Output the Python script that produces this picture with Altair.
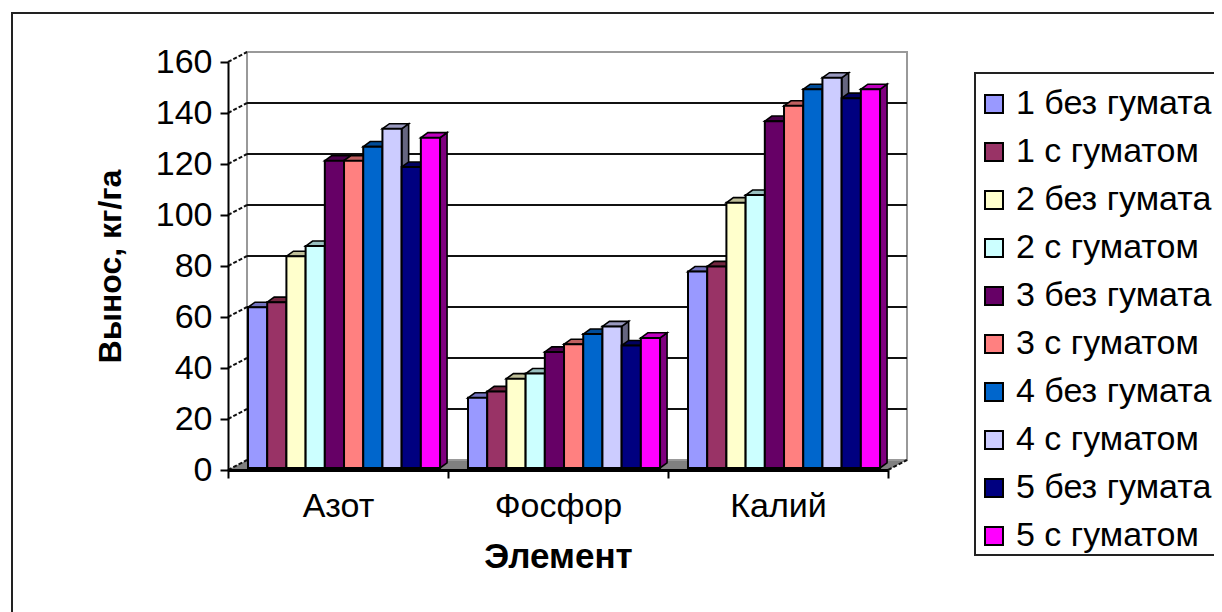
import altair as alt
import pandas as pd

elements = ["Азот", "Фосфор", "Калий"]
series = ["1 без гумата", "1 с гуматом", "2 без гумата", "2 с гуматом", "3 без гумата",
          "3 с гуматом", "4 без гумата", "4 с гуматом", "5 без гумата", "5 с гуматом"]
azot = [63, 65, 83, 87, 120.5, 120.5, 126, 133, 118, 129.5]
fosfor = [27.5, 30, 35, 37, 45.5, 48.5, 52.5, 55.5, 48, 51]
kaliy = [77, 79, 104, 107, 136, 142, 148.5, 153, 145, 148.5]
front_colors = ["#9999FF", "#993366", "#FFFFCC", "#CCFFFF", "#660066",
                "#FF8080", "#0066CC", "#CCCCFF", "#000080", "#FF00FF"]
side_colors = ["#4C4C80", "#4C1933", "#808066", "#668080", "#330033",
               "#804040", "#003366", "#666680", "#000040", "#800080"]
top_colors = ["#7373BF", "#732640", "#BFBF99", "#99BFBF", "#4C004C",
              "#BF6060", "#004C99", "#9999BF", "#000060", "#BF00BF"]
y_ticks = [0, 20, 40, 60, 80, 100, 120, 140, 160]
grid_values = [20, 40, 60, 80, 100, 120, 140]

# 3D projection, in axis units
WALL_DX, WALL_DY = 0.0864, 3.92
BAR_DX, BAR_DY = 0.0318, 2.0
BASE = 0.8
BAR_START, BAR_W = 0.0909, 0.0873

front, sides, tops = [], [], []
for g, vals in enumerate([azot, fosfor, kaliy]):
    for i, v in enumerate(vals):
        x0 = g + BAR_START + i * BAR_W
        x1 = x0 + BAR_W
        t = v + BASE
        key = f"{g}-{i}"
        front.append(dict(x=x0, x2=x1, y=BASE, y2=t, s=series[i]))
        sides += [dict(k=key, x=x1, y=t, y2=BASE, c=side_colors[i]),
                  dict(k=key, x=x1 + BAR_DX, y=t + BAR_DY, y2=BASE + BAR_DY, c=side_colors[i])]
        tops += [dict(k=key, x=x0, y=t, y2=t, c=top_colors[i]),
                 dict(k=key, x=x0 + BAR_DX, y=t, y2=t + BAR_DY, c=top_colors[i]),
                 dict(k=key, x=x1, y=t, y2=t + BAR_DY, c=top_colors[i]),
                 dict(k=key, x=x1 + BAR_DX, y=t + BAR_DY, y2=t + BAR_DY, c=top_colors[i])]

front, sides, tops = map(pd.DataFrame, (front, sides, tops))

xs = alt.Scale(domain=[0, 3], nice=False, zero=False)
ys = alt.Scale(domain=[0, 160], nice=False)
FONT = "Liberation Sans"


def X(f="x", axis=None):
    return alt.X(f, type="quantitative", scale=xs, axis=axis, title=None)


def Y(f="y", axis=None):
    return alt.Y(f, type="quantitative", scale=ys, axis=axis, title=None, stack=None)


one = pd.DataFrame({"a": [0]})
frame = alt.Chart(one).mark_rect(fill="white", stroke="#222222", strokeWidth=2).encode(
    x=alt.value(-216), x2=alt.value(1200), y=alt.value(-49), y2=alt.value(800))
legend_box = alt.Chart(one).mark_rect(fill="white", stroke="#222222", strokeWidth=2).encode(
    x=alt.value(747), x2=alt.value(1200), y=alt.value(11), y2=alt.value(493))

floor = alt.Chart(pd.DataFrame({
    "x": [0, WALL_DX, 3, 3 + WALL_DX],
    "y": [0, 0, 0, WALL_DY],
    "y2": [0, WALL_DY, WALL_DY, WALL_DY],
})).mark_area(color="#808080", orient="vertical").encode(x=X(), y=Y(), y2="y2")

wall = alt.Chart(pd.DataFrame({"x": [WALL_DX], "x2": [3 + WALL_DX],
                               "y": [WALL_DY], "y2": [160 + WALL_DY]})).mark_rect(
    fillOpacity=0, stroke="#999999", strokeWidth=2
).encode(x=X(), x2="x2", y=Y(), y2="y2")

grid = alt.Chart(pd.DataFrame({"v": grid_values}))\
    .transform_calculate(y=f"datum.v + {WALL_DY}", x=f"{WALL_DX}", x2=f"{3 + WALL_DX}")\
    .mark_rule(color="#111111", strokeWidth=2)\
    .encode(x=X(), x2="x2:Q", y=Y())

edge_y = alt.Chart(pd.DataFrame({"v": y_ticks}))\
    .transform_calculate(y2=f"datum.v + {WALL_DY}", x2=f"{WALL_DX}", x="0")\
    .mark_rule(color="#111111", strokeWidth=2, strokeDash=[4, 2])\
    .encode(x=X(), x2="x2:Q", y=Y("v"), y2="y2:Q")

edge_x = alt.Chart(pd.DataFrame({"x": [3], "x2": [3 + WALL_DX], "y": [0], "y2": [WALL_DY]}))\
    .mark_rule(color="#111111", strokeWidth=2, strokeDash=[4, 2])\
    .encode(x=X(), x2="x2", y=Y(), y2="y2")

side_l = alt.Chart(sides).mark_area(stroke="black", strokeWidth=1.6, orient="vertical").encode(
    x=X(), y=Y(), y2="y2", detail="k:N", color=alt.Color("c:N", scale=None, legend=None))
top_l = alt.Chart(tops).mark_area(stroke="black", strokeWidth=1.6, orient="vertical").encode(
    x=X(), y=Y(), y2="y2", detail="k:N", color=alt.Color("c:N", scale=None, legend=None))

front_l = alt.Chart(front).mark_rect(stroke="black", strokeWidth=2).encode(
    x=X(), x2="x2", y=Y(), y2="y2",
    fill=alt.Fill("s:N", sort=series, scale=alt.Scale(domain=series, range=front_colors),
                  legend=alt.Legend(
                      title=None, orient="none", legendX=749, legendY=25,
                      symbolType="square", symbolSize=324, symbolStrokeColor="black",
                      symbolStrokeWidth=2, symbolOpacity=1,
                      labelFont=FONT, labelFontSize=34, labelColor="#000000", labelLimit=400,
                      labelOffset=5, rowPadding=14, padding=0)))

ticks_axis = alt.Axis(values=[0, 1, 2, 3], labels=False, tickSize=8, tickWidth=2, tickColor="black",
                      domainColor="black", domainWidth=3, grid=False, title=None, orient="bottom",
                      zindex=1)
label_map = "{" + ",".join(f"'{i + 0.5}':'{e}'" for i, e in enumerate(elements)) + "}"
labels_axis = alt.Axis(values=[0.5, 1.5, 2.5], labelExpr=f"{label_map}[datum.value+'']",
                       ticks=False, domain=False, grid=False, labelFont=FONT, labelFontSize=34,
                       labelColor="black", labelPadding=19, title="Элемент", orient="bottom",
                       titleFont=FONT, titleFontSize=35, titleFontWeight="bold", titleColor="black",
                       titlePadding=16, zindex=1)
y_axis = alt.Axis(values=y_ticks, grid=False, tickSize=8, tickWidth=2, tickColor="black",
                  domainColor="black", domainWidth=2, labelFont=FONT, labelFontSize=34,
                  labelColor="black", labelPadding=8, title="Вынос, кг/га", titleFont=FONT,
                  titleFontSize=32, titleFontWeight="bold", titleColor="black", titlePadding=28,
                  zindex=1, orient="left")

axis_a = alt.Chart(pd.DataFrame({"x": [0.0], "y": [0.0]})).mark_point(opacity=0).encode(
    x=alt.X("x", type="quantitative", scale=xs, axis=ticks_axis, title=None),
    y=alt.Y("y", type="quantitative", scale=ys, axis=y_axis, title="Вынос, кг/га"))
axis_b = alt.Chart(pd.DataFrame({"x": [0.0], "y": [0.0]})).mark_point(opacity=0).encode(
    x=alt.X("x", type="quantitative", scale=xs, axis=labels_axis, title="Элемент"),
    y=Y())

chart = alt.layer(frame, legend_box, floor, wall, grid, edge_y, edge_x, side_l, top_l, front_l, axis_a, axis_b)\
    .resolve_axis(x="independent", y="independent")\
    .properties(width=660, height=408,
                autosize=alt.AutoSizeParams(type="none"),
                padding={"left": 220, "top": 54, "right": 326, "bottom": 142})\
    .configure_view(stroke=None)\
    .configure(background="white")

chart.save("out.html", embed_options={"renderer": "svg", "actions": False})
